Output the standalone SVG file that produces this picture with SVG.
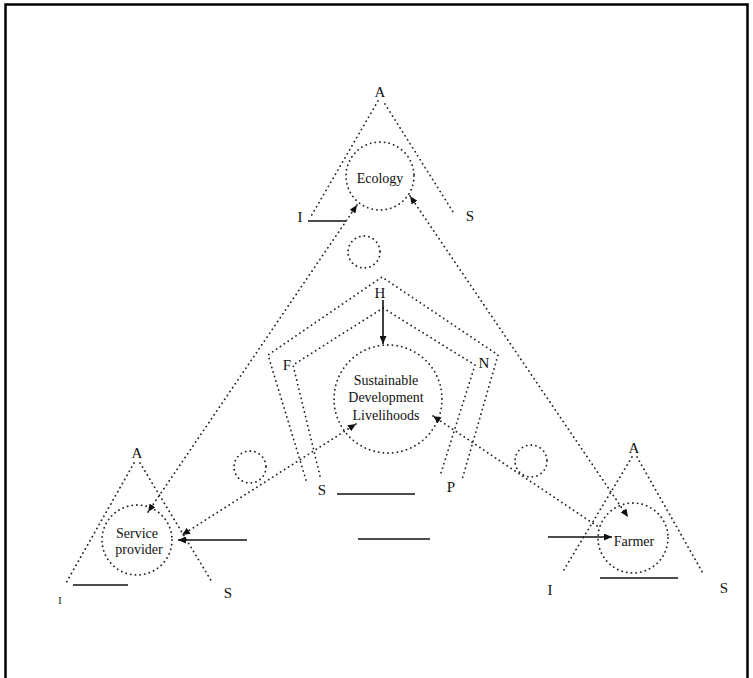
<svg xmlns="http://www.w3.org/2000/svg" width="753" height="678" viewBox="0 0 753 678">
<style>
.dot{fill:none;stroke:#222;stroke-width:1.8;stroke-dasharray:0.1 4.6;stroke-linecap:round}
.sol{fill:none;stroke:#111;stroke-width:1.6}
.lbl{font-family:"Liberation Serif",serif;font-size:15px;fill:#111;text-anchor:middle}
.txt{font-family:"Liberation Serif",serif;font-size:14px;fill:#111;text-anchor:middle}
</style>
<defs>
<marker id="ah" viewBox="0 0 8 7" refX="8" refY="3.5" markerWidth="8" markerHeight="7" markerUnits="userSpaceOnUse" orient="auto-start-reverse">
<path d="M0,0 L8,3.5 L0,7 z" fill="#111"/>
</marker>
</defs>
<rect x="5.5" y="4.5" width="742" height="700" fill="#fff" stroke="#000" stroke-width="2.5"/>

<g id="ecology-triangle">
<text class="lbl" x="380" y="97">A</text>
<path class="dot" d="M378,101 L310,218"/>
<path class="dot" d="M385,104 L455,215"/>
<path class="sol" d="M308,221 L346,221"/>
<text class="lbl" x="300" y="222">I</text>
<text class="lbl" x="470" y="221">S</text>
</g>
<g id="ecology">
<circle class="dot" cx="380" cy="176" r="34"/>
<text class="txt" x="380" y="183">Ecology</text>
</g>

<g id="sp-triangle">
<text class="lbl" x="137" y="458">A</text>
<path class="dot" d="M134,463 L66,583"/>
<path class="dot" d="M140,463 L212,582"/>
<path class="sol" d="M73,585 L128,585"/>
<text class="lbl" x="60" y="604" style="font-size:10px">I</text>
<text class="lbl" x="228" y="598">S</text>
</g>
<g id="service-provider">
<circle class="dot" cx="137" cy="540" r="35"/>
<text class="txt" x="137" y="538">Service</text>
<text class="txt" x="139" y="554">provider</text>
</g>

<g id="farmer-triangle">
<text class="lbl" x="634" y="453">A</text>
<path class="dot" d="M632,457 L562,573"/>
<path class="dot" d="M637,457 L704,575"/>
<path class="sol" d="M600,578 L678,578"/>
<text class="lbl" x="550" y="595">I</text>
<text class="lbl" x="724" y="593">S</text>
</g>
<g id="farmer">
<circle class="dot" cx="633" cy="538" r="35"/>
<text class="txt" x="634" y="546">Farmer</text>
</g>

<g id="pentagon">
<path class="dot" d="M306,480 L268,355 L382,277 L498,355 L462,480"/>
<path class="dot" d="M320,476 L293,365 L383,308 L475,365 L440,476"/>
<text class="lbl" x="380" y="298">H</text>
<text class="lbl" x="287" y="370">F</text>
<text class="lbl" x="484" y="368">N</text>
<text class="lbl" x="322" y="495">S</text>
<text class="lbl" x="451" y="492">P</text>
<path class="sol" d="M337,494 L415,494"/>
<path class="sol" d="M358,539 L430,539"/>
</g>
<g id="sdl">
<circle class="dot" cx="388" cy="399" r="54"/>
<text class="txt" x="386" y="385">Sustainable</text>
<text class="txt" x="386" y="402">Development</text>
<text class="txt" x="386" y="420">Livelihoods</text>
</g>

<g id="small-circles">
<circle class="dot" cx="364" cy="252" r="16"/>
<circle class="dot" cx="250" cy="467" r="16"/>
<circle class="dot" cx="531" cy="461" r="16"/>
</g>

<g id="connectors">
<path class="dot" d="M357,205 L148,512" marker-start="url(#ah)" marker-end="url(#ah)"/>
<path class="dot" d="M410,196 L628,517" marker-start="url(#ah)" marker-end="url(#ah)"/>
<path class="dot" d="M356,424 L182,535" marker-start="url(#ah)" marker-end="url(#ah)"/>
<path class="dot" d="M433,416 L600,528" marker-start="url(#ah)"/>
<path class="sol" d="M383,300 L383,344" marker-end="url(#ah)"/>
<path class="sol" d="M247,540 L178,540" marker-end="url(#ah)"/>
<path class="sol" d="M548,537 L612,537" marker-end="url(#ah)"/>
</g>
</svg>
